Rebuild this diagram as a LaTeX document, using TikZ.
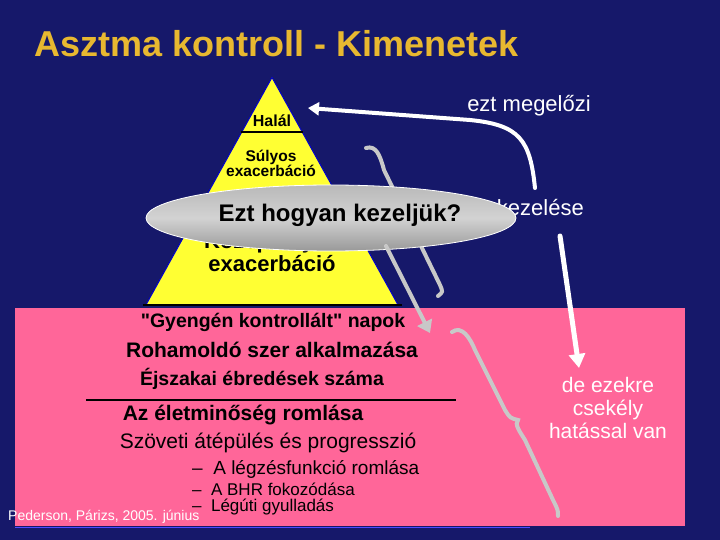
\documentclass[tikz,border=0pt]{standalone}
\usepackage{fontspec}
\setmainfont{Liberation Sans}
\newfontfamily\plainq{Liberation Sans}[Ligatures=TeXOff]
\usetikzlibrary{shapes.geometric,arrows.meta}
\definecolor{bgblue}{HTML}{16186A}
\definecolor{titlegold}{HTML}{E8B830}
\definecolor{pinkbox}{HTML}{FF6699}
\definecolor{pyr}{HTML}{FFFF33}
\definecolor{grayarr}{HTML}{C8C8C8}
\tikzset{
  txt/.style={inner sep=0pt,font=\fontsize{22}{24}\selectfont},
  wtxt/.style={txt,text=white},
  garrow/.style={draw=grayarr,line width=4pt,line cap=round},
  warrow/.style={draw=white,line width=4pt,line cap=round},
}
\begin{document}
\begin{tikzpicture}[x=1pt,y=-1pt]
\useasboundingbox (0,0) rectangle (720,540);
\fill[bgblue] (0,0) rectangle (720,540);
\node[anchor=west,text=titlegold,inner sep=0pt,font=\bfseries\fontsize{36}{38}\selectfont] (title) at (34,44) {Asztma kontroll - Kimenetek};
% pink box
\fill[pinkbox] (15,308) rectangle (685,526);
\draw[blue!70!white,line width=1pt] (15,527) -- (530,527);
% pyramid
\node[draw=blue!80!black,line width=1pt,fill=pyr,isosceles triangle,isosceles triangle apex angle=58,shape border rotate=90,minimum height=228pt,inner sep=0pt,anchor=south] (pyr) at (272,306) {};
\draw[line width=1.5pt] (241,132) -- (303,132);
\draw[line width=1.5pt] (143,305) -- (402,305);
\node[txt,font=\bfseries\fontsize{16}{17}\selectfont] (halal) at (272,121) {Halál};
\node[txt,font=\bfseries\fontsize{15.5}{15}\selectfont,align=center] (sulyos) at (271,163) {Súlyos\\exacerbáció};
\node[txt,font=\bfseries\fontsize{22}{23}\selectfont,align=center] (kozep) at (272,252) {Középsúlyos\\exacerbáció};
% right texts
\node[wtxt,anchor=east] (kez) at (584,208) {kezelése};
\node[wtxt] (megel) at (529,106) {ezt megelőzi};
\node[wtxt,align=center,font=\fontsize{21}{23}\selectfont] (deez) at (608,408) {de ezekre\\csekély\\hatással van};
% gray bracket 1
\coordinate (b1a) at (366,148);
\coordinate (b1b) at (438,296);
\draw[garrow] (b1a) .. controls (376,145) and (380,155) .. (384,170) -- (440,285) .. controls (443,292) .. (b1b);
% gray bracket 2
\coordinate (b2a) at (452,332);
\coordinate (b2m) at (518,420);
\coordinate (b2b) at (558,516);
\draw[garrow] (b2a) .. controls (462,325) and (470,338) .. (475,350) -- (505,410) .. controls (510,418) .. (b2m) .. controls (514,424) and (520,432) .. (525,440) -- (553,500) .. controls (558,510) .. (b2b);
% ellipse
\node[ellipse,draw=white,line width=0.8pt,top color=gray!55,bottom color=gray!80,middle color=gray!35,minimum width=370pt,minimum height=66pt,inner sep=0pt] (ell) at (331,218) {};
\node[txt,font=\bfseries\fontsize{24}{26}\selectfont] (q) at (340,215) {Ezt hogyan kezeljük?};
% gray arrow
\coordinate (ga1) at (386,246);
\coordinate (ga2) at (430,333);
\draw[garrow,-{Triangle[length=12pt,width=16pt]}] (ga1) -- (ga2);
% white arrows
\coordinate (wa1) at (535,188);
\coordinate (wa2) at (308,108);
\draw[warrow,-{Triangle[length=11pt,width=13pt]}] (wa1) .. controls (530,140) and (520,125) .. (470,120) -- (wa2);
\coordinate (wb1) at (560,236);
\coordinate (wb2) at (579,368);
\draw[warrow,line width=5pt,-{Triangle[length=14pt,width=16pt]}] (wb1) -- (wb2);
% pink texts
\node[txt,font=\plainq\bfseries\fontsize{19.5}{21}\selectfont] (gy) at (273,322) {"Gyengén kontrollált" napok};
\node[txt,font=\bfseries\fontsize{21}{23}\selectfont] (roh) at (272,350) {Rohamoldó szer alkalmazása};
\node[txt,font=\bfseries\fontsize{19.5}{21}\selectfont] (ejsz) at (262,379) {Éjszakai ébredések száma};
\draw[line width=1.5pt] (86,400) -- (456,400);
\node[txt,font=\bfseries\fontsize{21}{23}\selectfont] (elet) at (243,415) {Az életminőség romlása};
\node[txt,font=\fontsize{21}{23}\selectfont] (szov) at (268,443) {Szöveti átépülés és progresszió};
\node[txt,anchor=west,font=\fontsize{19}{20}\selectfont] (l1) at (192,469) {–\ \ A légzésfunkció romlása};
\node[txt,anchor=west,font=\fontsize{17}{18}\selectfont] (l2) at (192,489) {–\ \ A BHR fokozódása};
\node[txt,anchor=west,font=\fontsize{17}{18}\selectfont] (l3) at (192,507) {–\ \ Légúti gyulladás};
\node[txt,anchor=west,text=white,font=\fontsize{14}{15}\selectfont] (ped) at (8,517) {Pederson, Párizs, 2005. június};
\end{tikzpicture}
\end{document}
